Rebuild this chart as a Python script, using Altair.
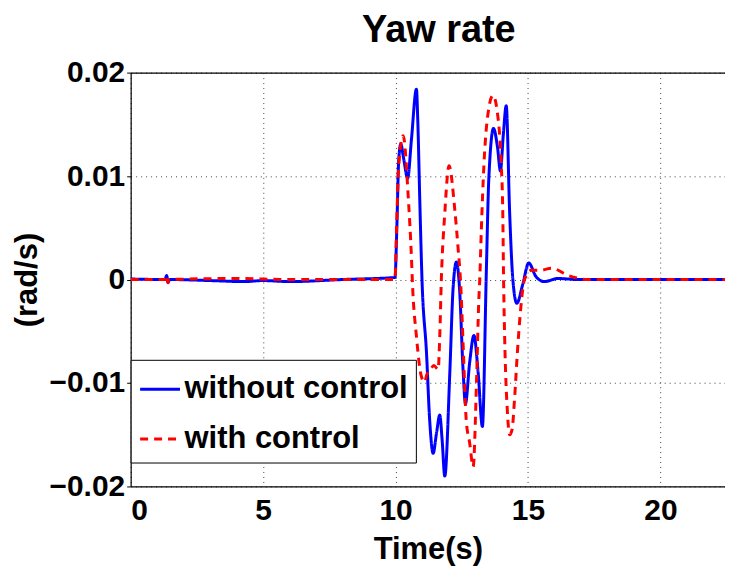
import altair as alt
import pandas as pd

# ---- data ----
blue_t = [0, 1.3, 1.36, 1.41, 1.47, 3.0, 4.3, 5.0, 6.0, 8.0, 9.98,
          10.05, 10.12, 10.2, 10.3, 10.46, 10.6, 10.79, 10.84, 10.92, 11.0,
          11.17, 11.29, 11.42, 11.55, 11.67, 11.76, 11.86, 12.05, 12.17, 12.3,
          12.42, 12.55, 12.64, 12.8, 12.96, 13.12, 13.28, 13.43, 13.52, 13.7,
          13.85, 13.96, 14.07, 14.18, 14.31, 14.43, 14.58, 14.8, 15.03, 15.3,
          15.62, 16.13, 16.9, 18.0, 20.0, 22.44]
blue_v = [0.00005, 0.0, 0.0004, -0.0003, 0.0, -0.0001, -0.0002, -0.0001, -0.0002, 0.0, 0.0002,
          0.005, 0.0115, 0.0131, 0.0118, 0.0098, 0.0135, 0.0184, 0.0154, 0.0073, 0.0,
          -0.0071, -0.0136, -0.0168, -0.0148, -0.0131, -0.0155, -0.019, -0.009, -0.001, 0.0017,
          -0.001, -0.0087, -0.012, -0.008, -0.0054, -0.009, -0.0142, 0.0009, 0.0096, 0.0146,
          0.0128, 0.0105, 0.014, 0.0168, 0.0064, 0.0, -0.0023, -0.0005, 0.0016, 0.0003,
          -0.0002, 0.0001, 0.0, 0.0, 0.0, 0.0]

red_t = [0, 1.3, 1.36, 1.41, 1.47, 4.0, 6.0, 9.98,
         10.04, 10.12, 10.29, 10.48, 10.6, 10.64, 10.79, 10.98, 11.1, 11.18, 11.3,
         11.45, 11.61, 11.67, 11.73, 11.86, 12.02, 12.24, 12.36, 12.46, 12.56, 12.67,
         12.8, 12.93, 13.06, 13.14, 13.18, 13.24, 13.34, 13.49, 13.68, 13.88, 13.99,
         14.05, 14.08, 14.12, 14.22, 14.31, 14.4, 14.5, 14.6, 14.72, 14.87, 15.14,
         15.5, 15.89, 16.51, 17.27, 20.0, 22.44]
red_v = [0.0, 0.0, 0.0004, -0.0003, 0.0, 0.0001, 0.0, 0.0,
         0.005, 0.011, 0.0139, 0.008, 0.0022, -0.0004, -0.0055, -0.0094, -0.0099, -0.0092, -0.0088,
         -0.0083, -0.0087, -0.0055, 0.0, 0.0064, 0.011, 0.0067, 0.0031, -0.0004, -0.0068, -0.0136,
         -0.0158, -0.0181, -0.0097, -0.0023, 0.0, 0.0048, 0.0112, 0.016, 0.0178, 0.0154, 0.0112,
         0.0064, 0.0, -0.0055, -0.0126, -0.015, -0.0145, -0.0113, -0.0071, -0.003, 0.0, 0.0009,
         0.0009, 0.0011, 0.0004, 0.0, 0.0, 0.0]

series_names = ["without control", "with control"]
series_colors = ["#0000FF", "#FF0000"]
series_dash = [[1, 0], [8, 6]]
x_ticks = [0, 5, 10, 15, 20]
y_ticks = [-0.02, -0.01, 0, 0.01, 0.02]

blue_df = pd.DataFrame({"t": blue_t, "v": blue_v, "series": series_names[0]})
red_df = pd.DataFrame({"t": red_t, "v": red_v, "series": series_names[1]})

FONT = "Liberation Sans, Arial, Helvetica, sans-serif"

x_scale = alt.Scale(domain=[0, 22.44], nice=False, zero=False)
y_scale = alt.Scale(domain=[-0.02, 0.02], nice=False)

color_enc = alt.Color(
    "series:N",
    scale=alt.Scale(domain=series_names, range=series_colors),
    sort=series_names,
    legend=alt.Legend(
        title=None, orient="none", legendX=0, legendY=288,
        strokeColor="black", fillColor="white", padding=8,
        symbolType="stroke", symbolSize=1600, symbolStrokeWidth=3,
        labelFont=FONT, labelFontSize=31, labelFontWeight="bold",
        labelColor="black", labelOffset=3, rowPadding=13, cornerRadius=0,
        labelLimit=400,
    ),
)
dash_enc = alt.StrokeDash(
    "series:N",
    scale=alt.Scale(domain=series_names, range=series_dash),
    sort=series_names,
    legend=None,
)

x_main = alt.X(
    "t:Q", scale=x_scale,
    axis=alt.Axis(title="Time(s)", values=x_ticks, format="d", grid=True,
                  ticks=False, labelPadding=9, titlePadding=9),
)
y_main = alt.Y(
    "v:Q", scale=y_scale,
    axis=alt.Axis(title="(rad/s)", values=y_ticks, grid=True, tickSize=4,
                  labelExpr="datum.value == 0 ? '0' : replace(format(datum.value, '.2f'), '-', '\u2212')",
                  titlePadding=6),
)

blue_layer = alt.Chart(blue_df).mark_line(
    strokeWidth=3, interpolate="monotone", clip=True
).encode(x=x_main, y=y_main, color=color_enc, strokeDash=dash_enc)

red_layer = alt.Chart(red_df).mark_line(
    strokeWidth=3, interpolate="monotone", clip=True
).encode(
    x=alt.X("t:Q", scale=x_scale,
            axis=alt.Axis(orient="top", labels=False, ticks=False, grid=False,
                          domain=True, title=None)),
    y=alt.Y("v:Q", scale=y_scale),
    color=color_enc, strokeDash=dash_enc,
)

chart = alt.layer(blue_layer, red_layer).resolve_axis(x="independent").properties(
    width=596, height=415,
    autosize=alt.AutoSizeParams(type="none"),
    padding={"left": 123, "top": 64, "right": 0, "bottom": 86},
    background="white",
    title=alt.TitleParams(
        "Yaw rate", font=FONT, fontSize=38, fontWeight="bold", color="black",
        anchor="middle", dx=11, offset=8,
    ),
).configure_view(stroke=None).configure_axis(
    labelFont=FONT, labelFontSize=30, labelFontWeight="bold", labelColor="black",
    titleFont=FONT, titleFontSize=31, titleFontWeight="bold", titleColor="black",
    domainColor="black", domainWidth=1.2, tickColor="black",
    gridColor="#444444", gridDash=[1, 4], gridWidth=1, gridOpacity=1,
)

chart.save("out.html", embed_options={"renderer": "svg", "actions": False})
